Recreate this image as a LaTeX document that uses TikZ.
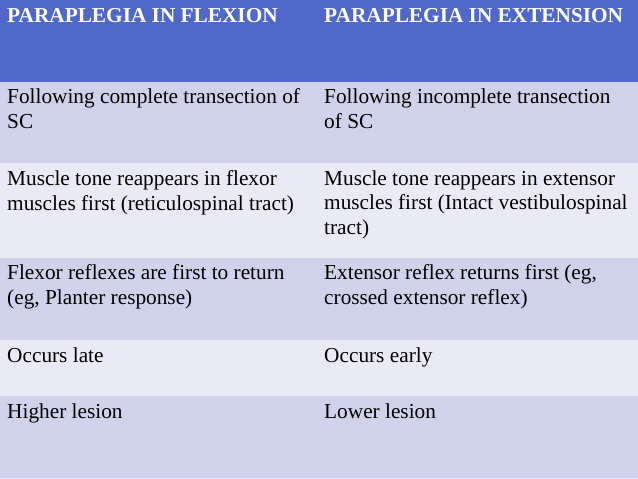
\documentclass[tikz,border=0pt]{standalone}
\usepackage{fontspec}
\setmainfont{Liberation Serif}
\definecolor{entete}{RGB}{79,104,201}
\definecolor{sombre}{RGB}{208,210,235}
\definecolor{clair}{RGB}{233,234,245}
\tikzset{bande/.style={fill=#1,draw=none},bande/.default={sombre},
texte/.style={anchor=base west,inner sep=0pt,align=left,text=black,scale=1.092,transform shape,font=\fontsize{19.5}{22}\selectfont},
titre/.style={texte,text=white,font=\fontsize{19.5}{22}\selectfont\bfseries}}
\begin{document}
\begin{tikzpicture}[x=1pt,y=1pt]
\useasboundingbox (0,0) rectangle (638,-479);
% bandes du tableau
\fill[bande=entete] (0,0) rectangle (638,-82);
\fill[bande=sombre] (0,-82) rectangle (638,-163);
\fill[bande=clair] (0,-163) rectangle (638,-258);
\fill[bande=sombre] (0,-258) rectangle (638,-340);
\fill[bande=clair] (0,-340) rectangle (638,-396);
\fill[bande=sombre] (0,-396) rectangle (638,-478);
\fill[bande=clair] (0,-478) rectangle (638,-479);
% titres
\node[titre] (flexion) at (7,-22) {PARAPLEGIA IN FLEXION};
\node[titre] (extension) at (324,-22) {PARAPLEGIA IN EXTENSION};
% colonne flexion (ancre sur la derniere ligne)
\node[texte] (f1) at (7,-128) {Following complete transection of\\SC};
\node[texte] (f2) at (7,-210) {Muscle tone reappears in flexor\\muscles first (reticulospinal tract)};
\node[texte] (f3) at (7,-304) {Flexor reflexes are first to return\\(eg, Planter response)};
\node[texte] (f4) at (7,-362) {Occurs late};
\node[texte] (f5) at (7,-418) {Higher lesion};
% colonne extension
\node[texte] (e1) at (324,-128) {Following incomplete transection\\of SC};
\node[texte] (e2) at (324,-234) {Muscle tone reappears in extensor\\muscles first (Intact vestibulospinal\\tract)};
\node[texte] (e3) at (324,-304) {Extensor reflex returns first (eg,\\crossed extensor reflex)};
\node[texte] (e4) at (324,-362) {Occurs early};
\node[texte] (e5) at (324,-418) {Lower lesion};
\end{tikzpicture}
\end{document}
